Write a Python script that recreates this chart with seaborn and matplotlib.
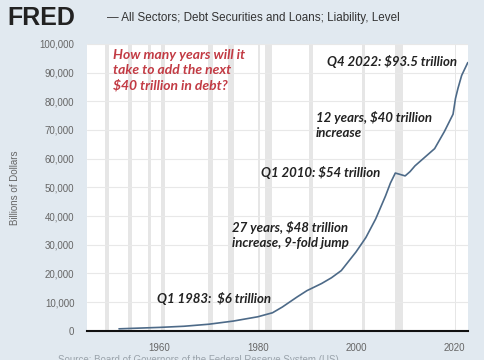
import matplotlib
matplotlib.use("Agg")
import matplotlib.pyplot as plt
import seaborn as sns
import pandas as pd

# debt level, billions of dollars
years = [1951.75, 1955, 1960, 1965, 1970, 1975, 1980, 1983, 1985, 1988,
         1990, 1993, 1995, 1997, 2000, 2002, 2004, 2006, 2007, 2008,
         2009, 2010, 2011, 2012, 2014, 2016, 2018, 2019.75, 2020.25,
         2020.75, 2021.5, 2022.75]
debt = [700, 900, 1200, 1600, 2300, 3400, 4900, 6300, 8300, 11800,
        14000, 16500, 18500, 21000, 27500, 32500, 39000, 47000, 51500, 55000,
        54500, 54000, 55500, 57500, 60500, 63500, 69500, 75500, 81000,
        84500, 89000, 93500]

# NBER recessions (decimal years)
rec_start = [1948.85, 1953.5, 1957.6, 1960.3, 1969.9, 1973.85, 1980.0, 1981.5,
             1990.5, 2001.2, 2007.9, 2020.1]
rec_end = [1949.8, 1954.4, 1958.3, 1961.1, 1970.9, 1975.2, 1980.5, 1982.9,
           1991.2, 2001.9, 2009.5, 2020.35]

yticks = [0, 10000, 20000, 30000, 40000, 50000, 60000, 70000, 80000, 90000, 100000]
xticks = [1960, 1980, 2000, 2020]

df = pd.DataFrame({"year": years, "debt": debt})

sns.set_theme(style="white")
plt.rcParams["font.family"] = ["Liberation Sans", "DejaVu Sans"]

fig = plt.figure(figsize=(4.85, 3.6), dpi=100)
fig.patch.set_facecolor("#e1e9f0")
ax = fig.add_axes([0.179, 0.081, 0.786, 0.797])
ax.set_facecolor("white")

for s, e in zip(rec_start, rec_end):
    ax.axvspan(s, e, color="#e6e6e6", lw=0, zorder=0)

sns.lineplot(data=df, x="year", y="debt", ax=ax, color="#4d6a88", lw=1.2, zorder=3)

ax.set_xlim(1945.2, 2022.8)
ax.set_ylim(0, 100000)
ax.set_yticks(yticks)
ax.set_yticklabels([f"{v:,}" for v in yticks])
ax.set_xticks(xticks)
ax.grid(axis="y", color="#e8e8e8", lw=0.8, zorder=1)
for sp in ["top", "right", "left"]:
    ax.spines[sp].set_visible(False)
ax.spines["bottom"].set_color("#111111")
ax.spines["bottom"].set_linewidth(1.5)
ax.tick_params(axis="both", length=0, labelsize=7, colors="#666666", pad=9)
ax.set_xlabel("")
ax.set_ylabel("Billions of Dollars", fontsize=7, color="#666666", labelpad=14)

# header
fig.text(0.016, 0.95, "FRED", fontsize=18, fontweight="bold", color="#222222",
         va="center", family=["Liberation Sans"])
fig.text(0.22, 0.95, "\u2014 All Sectors; Debt Securities and Loans; Liability, Level",
         fontsize=8.4, color="#333333", va="center")
fig.text(0.12, 0.0, "Source: Board of Governors of the Federal Reserve System (US)",
         fontsize=7, color="#9aa3ab", va="center")

note = dict(fontsize=9.5, fontweight="bold", style="italic", color="#222222",
            family=["Lato", "DejaVu Sans"], linespacing=1.3)
ax.text(1950.5, 98300, "How many years will it\ntake to add the next\n$40 trillion in debt?",
        va="top", fontsize=10, fontweight="bold", style="italic", color="#c23b44",
        family=["Lato", "DejaVu Sans"], linespacing=1.32)
ax.text(2020.6, 93700, "Q4 2022: $93.5 trillion", ha="right", va="center", **note)
ax.text(1991.8, 71900, "12 years, $40 trillion\nincrease", va="center", **note)
ax.text(1980.7, 55100, "Q1 2010: $54 trillion", va="center", **note)
ax.text(1974.8, 33300, "27 years, $48 trillion\nincrease, 9-fold jump", va="center", **note)
ax.text(1959.4, 11200, "Q1 1983:  $6 trillion", va="center", **note)

fig.savefig("out.png", dpi=100, facecolor=fig.get_facecolor())
